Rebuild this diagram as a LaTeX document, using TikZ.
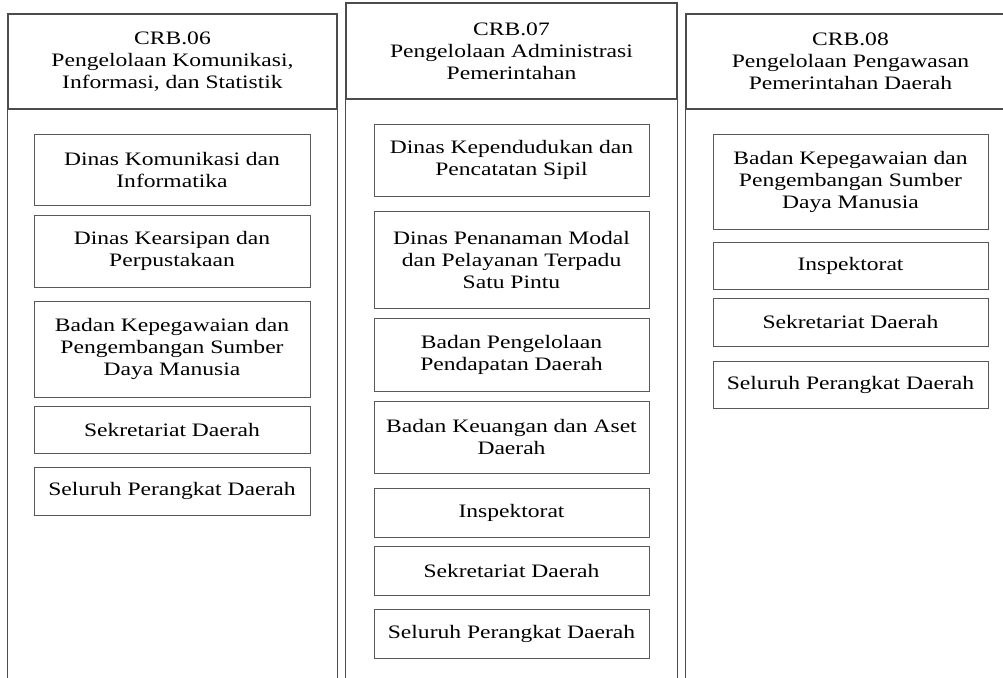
\documentclass[tikz,border=0pt]{standalone}
\usepackage{fontspec}
\setmainfont{Liberation Serif}[FakeStretch=1.24]
\usetikzlibrary{positioning}
\tikzset{
    %Define style for the column headers
    header/.style={
           rectangle,
           draw=black!70, line width=1.2pt,
           minimum width=329pt,
           minimum height=95pt,
           inner sep=0pt,
           align=center,
           font=\fontsize{19}{22}\selectfont},
    %Define style for the unit boxes
    unit/.style={
           rectangle,
           draw=black!65, line width=0.9pt,
           minimum width=276pt,
           inner sep=0pt,
           align=center,
           font=\fontsize{19}{22}\selectfont},
    % Define column side lines
    side/.style={
           draw=black!70, line width=1.2pt}
}
\begin{document}
\begin{tikzpicture}[x=1pt,y=-1pt]
\useasboundingbox (0,0) rectangle (1003,677);
\clip (0,0) rectangle (1003,677);
 %headers
\node[header](h6) at (172.5,61.5){CRB.06\\Pengelolaan Komunikasi,\\Informasi, dan Statistik};
\node[header, minimum width=331pt, minimum height=96pt](h7) at (511.5,51){CRB.07\\Pengelolaan Administrasi\\Pemerintahan};
\node[header](h8) at (850.5,61.5){CRB.08\\Pengelolaan Pengawasan\\Pemerintahan Daerah};
 %column sides
\draw[side] (h6.south west) -- ++(0,600) (h6.south east) -- ++(0,600);
\draw[side] (h7.south west) -- ++(0,600) (h7.south east) -- ++(0,600);
\draw[side] (h8.south west) -- ++(0,600) (h8.south east) -- ++(0,600);
 %CRB.06
\node[unit, minimum height=71pt](k1) at (172,169.5){Dinas Komunikasi dan\\Informatika};
\node[unit, minimum height=72pt](k2) at (172,251){Dinas Kearsipan dan\\Perpustakaan};
\node[unit, minimum height=96pt](k3) at (172,349){Badan Kepegawaian dan\\Pengembangan Sumber\\Daya Manusia};
\node[unit, minimum height=47pt](k4) at (172,429.5){Sekretariat Daerah};
\node[unit, minimum height=48pt](k5) at (172,491){Seluruh Perangkat Daerah};
 %CRB.07
\node[unit, minimum width=275pt, minimum height=72pt](a1) at (511.5,160){Dinas Kependudukan dan\\Pencatatan Sipil};
\node[unit, minimum width=275pt, minimum height=97pt](a2) at (511.5,259.5){Dinas Penanaman Modal\\dan Pelayanan Terpadu\\Satu Pintu};
\node[unit, minimum width=275pt, minimum height=73pt](a3) at (511.5,354.5){Badan Pengelolaan\\Pendapatan Daerah};
\node[unit, minimum width=275pt, minimum height=72pt](a4) at (511.5,437){Badan Keuangan dan Aset\\Daerah};
\node[unit, minimum width=275pt, minimum height=49pt](a5) at (511.5,512.5){Inspektorat};
\node[unit, minimum width=275pt, minimum height=49pt](a6) at (511.5,570.5){Sekretariat Daerah};
\node[unit, minimum width=275pt, minimum height=49pt](a7) at (511.5,633.5){Seluruh Perangkat Daerah};
 %CRB.08
\node[unit, minimum width=275pt, minimum height=95pt](p1) at (850.5,181.5){Badan Kepegawaian dan\\Pengembangan Sumber\\Daya Manusia};
\node[unit, minimum width=275pt, minimum height=47pt](p2) at (850.5,265.5){Inspektorat};
\node[unit, minimum width=275pt, minimum height=48pt](p3) at (850.5,322){Sekretariat Daerah};
\node[unit, minimum width=275pt, minimum height=47pt](p4) at (850.5,384.5){Seluruh Perangkat Daerah};
\end{tikzpicture}
\end{document}
